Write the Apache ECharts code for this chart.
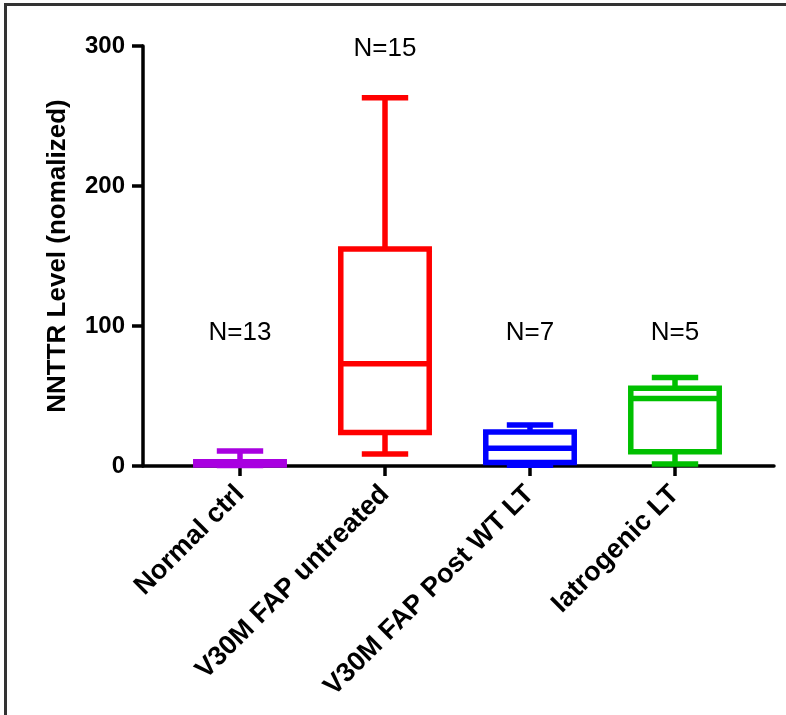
<!DOCTYPE html>
<html>
<head>
<meta charset="utf-8">
<script src="https://cdn.jsdelivr.net/npm/echarts@6/dist/echarts.min.js"></script>
<style>
html, body { margin: 0; padding: 0; background: #fff; }
#frame { position: absolute; left: 4px; top: 3px; width: 782px; height: 712px; border-top: 3px solid #333; border-left: 3px solid #333; box-sizing: border-box; }
#main { position: absolute; left: 0; top: 0; width: 786px; height: 715px; }
</style>
</head>
<body>
<div id="frame"></div>
<div id="main"></div>
<script>
var categories = ['Normal ctrl', 'V30M FAP untreated', 'V30M FAP Post WT LT', 'Iatrogenic LT'];
var whiskerLow = [0.3, 8.6, 0.5, 1.4];
var quartile1 = [0.8, 24, 2.5, 10.2];
var medians = [1.5, 73, 12.6, 48.3];
var quartile3 = [3, 155, 24.3, 55.5];
var whiskerHigh = [10.7, 263, 29.3, 63.3];
var groupColors = ['#a800e0', '#ff0000', '#0000ff', '#00c000'];
var nLabels = ['N=13', 'N=15', 'N=7', 'N=5'];
var nLabelLevel = [95, 298, 95, 95];

var font = 'Liberation Sans, Arial, sans-serif';
var myChart = echarts.init(document.getElementById('main'));

var boxData = categories.map(function (c, i) {
    return [i, whiskerLow[i], quartile1[i], medians[i], quartile3[i], whiskerHigh[i]];
});

// box with half-width caps, like the Prism style
function renderBox(params, api) {
    var i = api.value(0);
    var lo = api.coord([i, api.value(1)]);
    var q1 = api.coord([i, api.value(2)]);
    var md = api.coord([i, api.value(3)]);
    var q3 = api.coord([i, api.value(4)]);
    var hi = api.coord([i, api.value(5)]);
    var band = api.size([1, 0])[0];
    var half = band * 0.305;
    var cap = band * 0.16;
    var cx = q1[0];
    var style = { stroke: groupColors[params.dataIndex], lineWidth: 5.5, fill: null, lineCap: 'butt' };
    return {
        type: 'group',
        children: [
            { type: 'line', shape: { x1: cx, y1: q3[1], x2: cx, y2: hi[1] }, style: style },
            { type: 'line', shape: { x1: cx, y1: q1[1], x2: cx, y2: lo[1] }, style: style },
            { type: 'line', shape: { x1: cx - cap, y1: hi[1], x2: cx + cap, y2: hi[1] }, style: style },
            { type: 'line', shape: { x1: cx - cap, y1: lo[1], x2: cx + cap, y2: lo[1] }, style: style },
            { type: 'rect', shape: { x: cx - half, y: q3[1], width: half * 2, height: q1[1] - q3[1] }, style: style },
            { type: 'line', shape: { x1: cx - half, y1: md[1], x2: cx + half, y2: md[1] }, style: style }
        ]
    };
}

function renderCount(params, api) {
    var p = api.coord([api.value(0), api.value(1)]);
    return {
        type: 'text',
        x: p[0],
        y: p[1],
        style: {
            text: nLabels[params.dataIndex],
            fill: '#000',
            font: '26px ' + font,
            align: 'center',
            verticalAlign: 'middle'
        }
    };
}

var option = {
    animation: false,
    grid: [
        { left: 167.5, right: 38.5, top: 46, bottom: 249 },
        { left: 143, right: 12, top: 46, bottom: 249 }
    ],
    xAxis: [{
        gridIndex: 0,
        type: 'category',
        data: categories,
        axisLine: { show: false },
        axisTick: { show: true, alignWithLabel: true, length: 10, lineStyle: { width: 3.5, color: '#000' } },
        axisLabel: { rotate: 45, interval: 0, fontSize: 27, fontWeight: 'bold', color: '#000', margin: 24, fontFamily: font },
        splitLine: { show: false }
    }, {
        gridIndex: 1,
        type: 'value',
        min: 0,
        max: 1,
        axisLine: { show: true, lineStyle: { width: 3.5, color: '#000' } },
        axisTick: { show: false },
        axisLabel: { show: false },
        splitLine: { show: false }
    }],
    yAxis: [{
        gridIndex: 0,
        type: 'value',
        min: 0,
        max: 300,
        interval: 100,
        offset: 24.5,
        name: 'NNTTR Level (nomalized)',
        nameLocation: 'middle',
        nameGap: 72,
        nameTextStyle: { fontSize: 26, fontWeight: 'bold', color: '#000', fontFamily: font },
        axisLine: { show: true, lineStyle: { width: 3.5, color: '#000' } },
        axisTick: { show: true, length: 11, lineStyle: { width: 3.5, color: '#000' } },
        axisLabel: { fontSize: 24, fontWeight: 'bold', color: '#000', margin: 18, fontFamily: font },
        splitLine: { show: false }
    }, {
        gridIndex: 1,
        type: 'value',
        min: 0,
        max: 300,
        show: false
    }],
    series: [{
        type: 'custom',
        xAxisIndex: 0,
        yAxisIndex: 0,
        renderItem: renderBox,
        encode: { x: 0, y: [1, 2, 3, 4, 5] },
        data: boxData,
        silent: true
    }, {
        type: 'custom',
        xAxisIndex: 0,
        yAxisIndex: 0,
        renderItem: renderCount,
        encode: { x: 0, y: 1 },
        data: nLabels.map(function (t, i) { return [i, nLabelLevel[i]]; }),
        silent: true
    }]
};

myChart.setOption(option);
</script>
</body>
</html>
